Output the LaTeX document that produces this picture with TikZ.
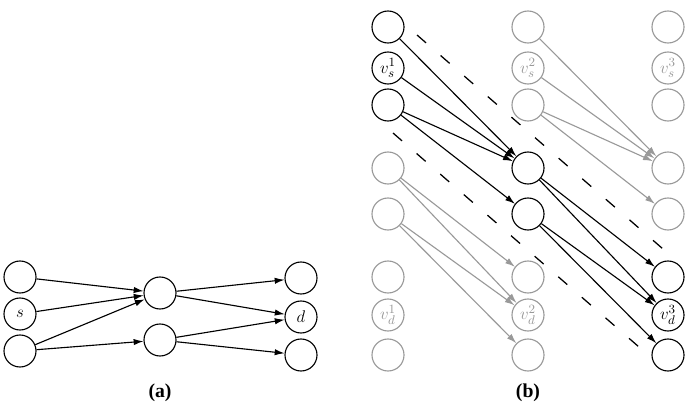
\documentclass[tikz,border=0pt]{standalone}
\usepackage{fontspec}
\setmainfont{Liberation Serif}
\usetikzlibrary{arrows.meta}
\definecolor{offgray}{gray}{0.6}

\begin{document}
\begin{tikzpicture}[x=0.025cm, y=-0.025cm,
	vtx/.style={circle, draw, line width=0.8pt, minimum size=0.8cm, inner sep=0pt, font=\fontsize{13}{15}\selectfont},
	idle/.style={draw=offgray, text=offgray},
	arc/.style={line width=0.8pt, -{Latex[length=7pt,width=4.5pt]}},
	slot/.style={line width=0.9pt, dash pattern=on 8.5pt off 13.75pt},
	caption/.style={font=\fontsize{14}{16}\selectfont\bfseries}]
	\useasboundingbox (0,0) rectangle (695,412);

	% (a) single slot
	\node[vtx] (a1) at (20,277) {};
	\node[vtx] (as) at (20,314) {$s$};
	\node[vtx] (a3) at (20,351) {};
	\node[vtx] (am1) at (160,293) {};
	\node[vtx] (am2) at (160,340) {};
	\node[vtx] (ar1) at (301,278) {};
	\node[vtx] (ad) at (301,317) {$d$};
	\node[vtx] (ar3) at (301,355) {};

	\draw[arc] (a1) -- (am1);
	\draw[arc] (as) -- (am1);
	\draw[arc] (a3) -- (am1);
	\draw[arc] (a3) -- (am2);
	\draw[arc] (am1) -- (ar1);
	\draw[arc] (am1) -- (ad);
	\draw[arc] (am2) -- (ad);
	\draw[arc] (am2) -- (ar3);

	\node[caption] (capa) at (160,393) {(a)};

	% (b) time-expanded copies
	\coordinate (s1a) at (417,35);
	\coordinate (s1b) at (663,249);
	\coordinate (s2a) at (393,133);
	\coordinate (s2b) at (639,347);
	\draw[slot] (s1a) -- (s1b);
	\draw[slot] (s2a) -- (s2b);

	\foreach \colno/\x/\lo/\hi in {1/388/1/3, 2/528/4/5, 3/668/6/8}
	\foreach \rowno/\y/\lbl in {1/27/{}, 2/68/{$v_s^{\colno}$}, 3/105/{}, 4/168/{}, 5/214/{}, 6/277/{}, 7/315/{$v_d^{\colno}$}, 8/355/{}}
	{
		\pgfmathtruncatemacro\on{and(\rowno>=\lo,\rowno<=\hi)}
		\ifnum\on=1
			\node[vtx] (b\colno\rowno) at (\x,\y) {\lbl};
		\else
			\node[vtx, idle] (b\colno\rowno) at (\x,\y) {\lbl};
		\fi
	}

	\draw[arc] (b11) -- (b24);
	\draw[arc] (b12) -- (b24);
	\draw[arc] (b13) -- (b24);
	\draw[arc] (b13) -- (b25);
	\draw[arc] (b24) -- (b36);
	\draw[arc] (b24) -- (b37);
	\draw[arc] (b25) -- (b37);
	\draw[arc] (b25) -- (b38);

	\draw[arc, offgray] (b21) -- (b34);
	\draw[arc, offgray] (b22) -- (b34);
	\draw[arc, offgray] (b23) -- (b34);
	\draw[arc, offgray] (b23) -- (b35);
	\draw[arc, offgray] (b14) -- (b26);
	\draw[arc, offgray] (b14) -- (b27);
	\draw[arc, offgray] (b15) -- (b27);
	\draw[arc, offgray] (b15) -- (b28);

	\node[caption] (capb) at (528,393) {(b)};
\end{tikzpicture}
\end{document}
